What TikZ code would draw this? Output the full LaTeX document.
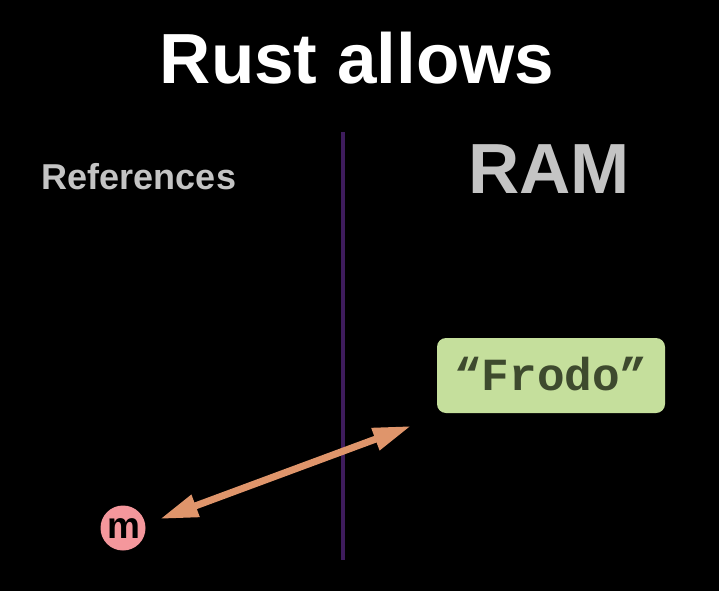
\documentclass[tikz,border=0pt]{standalone}
\usepackage{fontspec}
\setmainfont{Liberation Sans}
\newfontfamily\monob{Liberation Mono}
\usetikzlibrary{arrows.meta}
\definecolor{bgc}{HTML}{000000}
\definecolor{greyt}{HTML}{C4C4C4}
\definecolor{purpl}{HTML}{3E1C5C}
\definecolor{boxg}{HTML}{C5DF9C}
\definecolor{boxt}{HTML}{3E4A2E}
\definecolor{pinkc}{HTML}{F4979C}
\definecolor{arrc}{HTML}{DF956B}
\tikzset{
  ttl/.style={anchor=base, text=white, font=\fontsize{71}{71}\selectfont\bfseries, inner sep=0pt},
  lbl/.style={anchor=base, text=greyt, inner sep=0pt},
  strbox/.style={fill=boxg, rounded corners=9pt, minimum width=228pt, minimum height=75pt, text=boxt, font=\monob\fontsize{46}{46}\selectfont\bfseries, inner sep=0pt},
  refc/.style={circle, fill=pinkc, minimum size=45pt, inner sep=0pt},
  ptr/.style={draw=arrc, line width=7pt, {Triangle[length=38pt,width=22pt]}-{Triangle[length=38pt,width=22pt]}}
}
\begin{document}
\begin{tikzpicture}[x=1pt,y=-1pt]
\fill[bgc] (0,0) rectangle (719,591);
\useasboundingbox (0,0) rectangle (719,591);
\node[ttl] (title) at (357,84) {Rust allows};
\node[lbl, font=\fontsize{36}{36}\selectfont\bfseries] (refs) at (139,189) {References};
\node[lbl, font=\fontsize{71}{71}\selectfont\bfseries] (ram) at (549,193) {RAM};
\coordinate (vtop) at (343,132);
\coordinate (vbot) at (343,560);
\draw[purpl, line width=3.5pt] (vtop) -- (vbot);
\node[strbox] (frodo) at (551,375.5) {};
\node[anchor=base, text=boxt, font=\monob\fontsize{46}{46}\selectfont\bfseries, inner sep=0pt] (frodot) at (551,390) {“Frodo”};
\node[refc] (m) at (123,528) {};
\node[anchor=base, inner sep=0pt, font=\fontsize{37}{37}\selectfont\bfseries, text=black] (mt) at (124,538.5) {m};
\coordinate (pa) at (160,519);
\coordinate (pb) at (411,426);
\draw[ptr] (pa) -- (pb);
\end{tikzpicture}
\end{document}
